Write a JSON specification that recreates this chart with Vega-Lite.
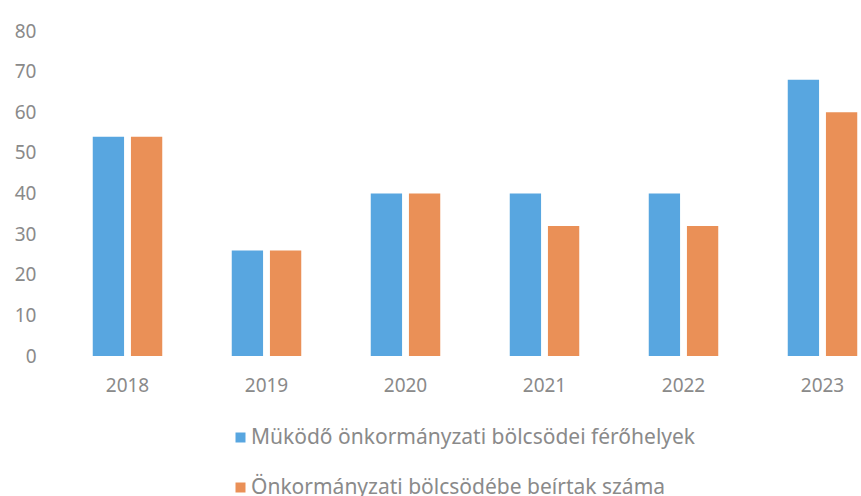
{
  "$schema": "https://vega.github.io/schema/vega-lite/v6.json",
  "width": 803,
  "height": 325,
  "autosize": "none",
  "padding": {"left": 58, "top": 31, "right": 0, "bottom": 140},
  "background": "white",
  "config": {
    "view": {"stroke": null},
    "font": "Noto Sans"
  },
  "data": {
    "values": [
      {"year": "2018", "series": "Müködő önkormányzati bölcsödei férőhelyek", "value": 54},
      {"year": "2018", "series": "Önkormányzati bölcsödébe beírtak száma", "value": 54},
      {"year": "2019", "series": "Müködő önkormányzati bölcsödei férőhelyek", "value": 26},
      {"year": "2019", "series": "Önkormányzati bölcsödébe beírtak száma", "value": 26},
      {"year": "2020", "series": "Müködő önkormányzati bölcsödei férőhelyek", "value": 40},
      {"year": "2020", "series": "Önkormányzati bölcsödébe beírtak száma", "value": 40},
      {"year": "2021", "series": "Müködő önkormányzati bölcsödei férőhelyek", "value": 40},
      {"year": "2021", "series": "Önkormányzati bölcsödébe beírtak száma", "value": 32},
      {"year": "2022", "series": "Müködő önkormányzati bölcsödei férőhelyek", "value": 40},
      {"year": "2022", "series": "Önkormányzati bölcsödébe beírtak száma", "value": 32},
      {"year": "2023", "series": "Müködő önkormányzati bölcsödei férőhelyek", "value": 68},
      {"year": "2023", "series": "Önkormányzati bölcsödébe beírtak száma", "value": 60}
    ]
  },
  "mark": {"type": "bar"},
  "encoding": {
    "x": {
      "field": "year",
      "type": "nominal",
      "scale": {"range": [0, 834], "paddingInner": 0.5, "paddingOuter": 0.25},
      "axis": {
        "title": null,
        "labelAngle": 0,
        "domain": false,
        "ticks": false,
        "labelFontSize": 19,
        "labelColor": "#8a8a8a",
        "labelPadding": 20
      }
    },
    "xOffset": {
      "field": "series",
      "type": "nominal",
      "scale": {"paddingInner": 0.18, "paddingOuter": 0}
    },
    "y": {
      "field": "value",
      "type": "quantitative",
      "scale": {"domain": [0, 80]},
      "axis": {
        "title": null,
        "values": [0, 10, 20, 30, 40, 50, 60, 70, 80],
        "grid": false,
        "domain": false,
        "ticks": false,
        "labelFontSize": 19,
        "labelColor": "#8a8a8a",
        "labelPadding": 22
      }
    },
    "color": {
      "field": "series",
      "type": "nominal",
      "scale": {"range": ["#58a6e0", "#ea9057"]},
      "legend": {
        "title": null,
        "orient": "none",
        "legendX": 172,
        "legendY": 396,
        "direction": "vertical",
        "symbolType": "square",
        "symbolSize": 100,
        "labelFontSize": 21,
        "labelColor": "#8a8a8a",
        "labelOffset": 0,
        "labelLimit": 0,
        "rowPadding": 28
      }
    }
  }
}
